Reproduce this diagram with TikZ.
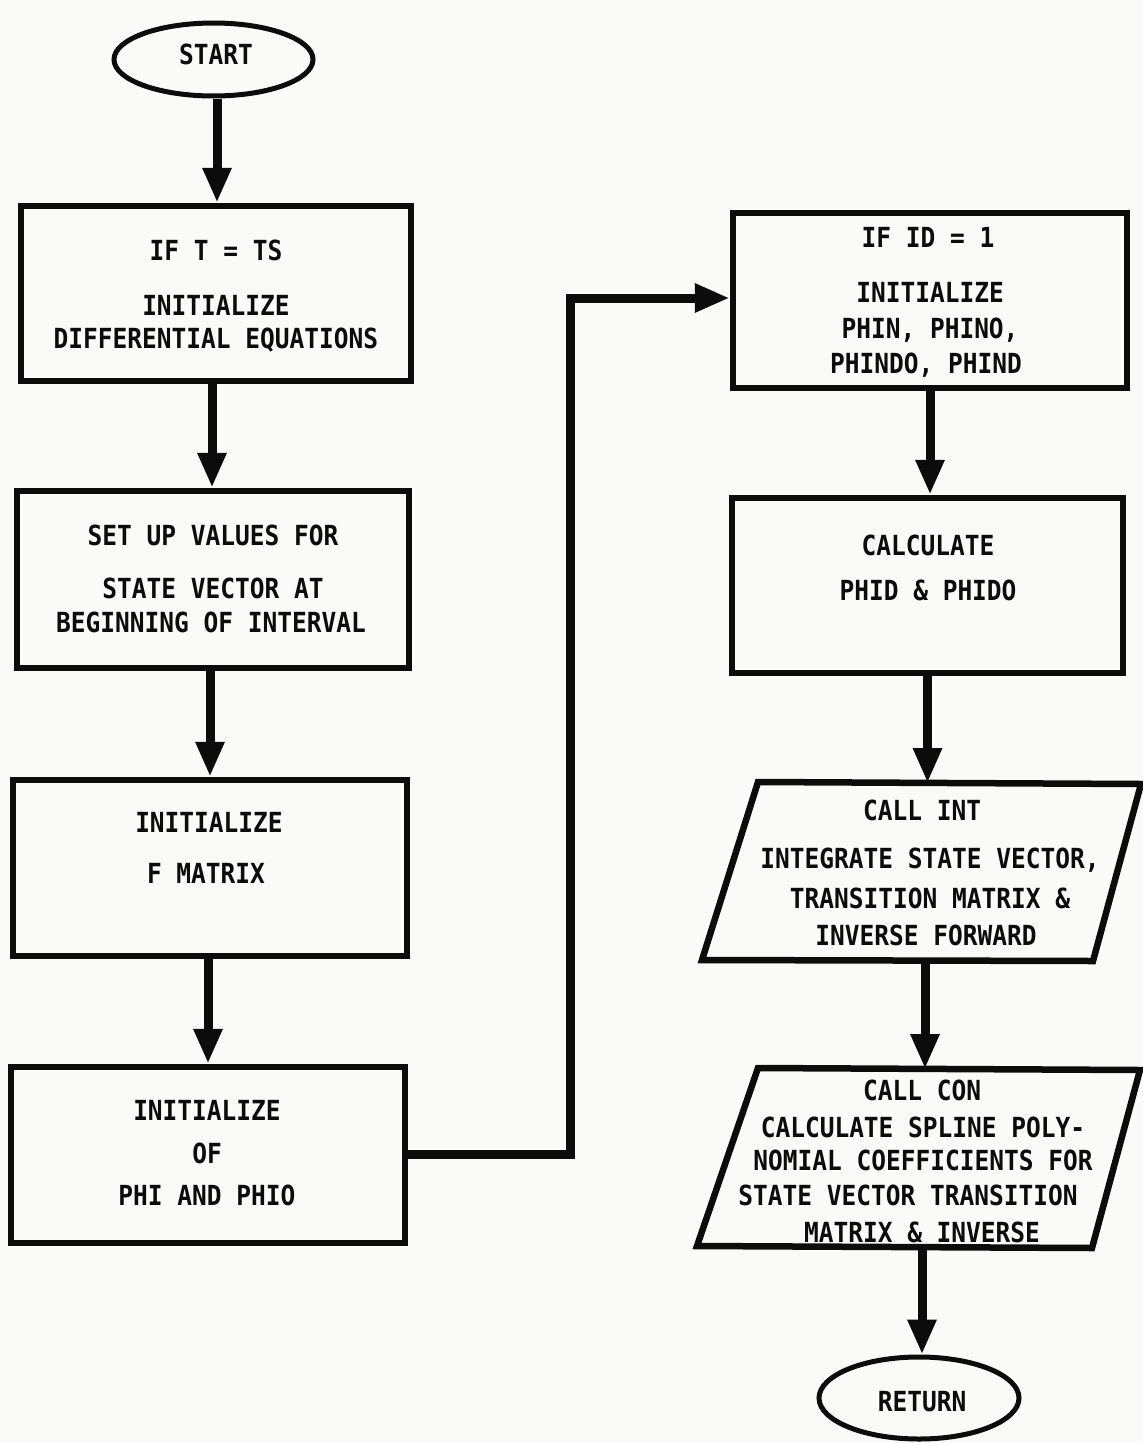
\documentclass[tikz,border=0pt]{standalone}
\usepackage{fontspec}
\usepackage{graphicx}
\usetikzlibrary{arrows.meta,shapes.geometric}
\newfontfamily\leroy{DejaVu Sans Mono}
\definecolor{paper}{RGB}{250,250,249}
\definecolor{ink}{RGB}{12,12,12}
% lettering: monospaced, a little taller than wide
\newcommand\lettering[1]{\scalebox{1}[1.13]{#1}}
\begin{document}
\begin{tikzpicture}[x=1pt,y=-1pt,
  box/.style={draw=ink, line width=6.5pt, line join=miter, inner sep=0pt},
  term/.style={draw=ink, ellipse, line width=5pt, inner sep=0pt},
  io/.style={draw=ink, line width=6.5pt, line join=miter},
  lbl/.style={text=ink, inner sep=0pt, font=\leroy\bfseries\fontsize{24.5}{29}\selectfont},
  flow/.style={draw=ink, line width=9pt, line join=miter,
    -{Triangle[length=35pt,width=27pt]}},
]
% page
\fill[paper] (0,0) rectangle (1143,1443);
\useasboundingbox (0,0) rectangle (1143,1443);

% ---------------- left column ----------------
\node[term, minimum width=199pt, minimum height=73pt] (start) at (213.5,59.5) {};
\node[lbl] (startlbl) at (216,54) {\lettering{START}};

\node[box, minimum width=390pt, minimum height=175pt] (b1) at (216,293.5) {};
\node[lbl] (b1a) at (216,250) {\lettering{IF T = TS}};
\node[lbl] (b1b) at (216,305) {\lettering{INITIALIZE}};
\node[lbl] (b1c) at (216,340) {\lettering{DIFFERENTIAL EQUATIONS}};

\node[box, minimum width=392pt, minimum height=177pt] (b2) at (213,579.5) {};
\node[lbl] (b2a) at (213,535) {\lettering{SET UP VALUES FOR}};
\node[lbl] (b2b) at (213,588) {\lettering{STATE VECTOR AT}};
\node[lbl] (b2c) at (211,622) {\lettering{BEGINNING OF INTERVAL}};

\node[box, minimum width=394pt, minimum height=176pt] (b3) at (210,868) {};
\node[lbl] (b3a) at (209,822) {\lettering{INITIALIZE}};
\node[lbl] (b3b) at (206,873) {\lettering{F MATRIX}};

\node[box, minimum width=394pt, minimum height=176pt] (b4) at (208,1155) {};
\node[lbl] (b4a) at (207,1110) {\lettering{INITIALIZE}};
\node[lbl] (b4b) at (207,1153) {\lettering{OF}};
\node[lbl] (b4c) at (207,1195) {\lettering{PHI AND PHIO}};

% ---------------- right column ----------------
\node[box, minimum width=394pt, minimum height=175pt] (b5) at (930,300.5) {};
\node[lbl] (b5a) at (928,237) {\lettering{IF ID = 1}};
\node[lbl] (b5b) at (930,292) {\lettering{INITIALIZE}};
\node[lbl] (b5c) at (930,330) {\lettering{PHIN, PHINO,}};
\node[lbl] (b5d) at (926,365) {\lettering{PHINDO, PHIND}};

\node[box, minimum width=391pt, minimum height=175pt] (b6) at (927.5,585.5) {};
\node[lbl] (b6a) at (928,545) {\lettering{CALCULATE}};
\node[lbl] (b6b) at (928,590) {\lettering{PHID \& PHIDO}};

% CALL INT block
\coordinate (p1tl) at (758,782);
\coordinate (p1tr) at (1141,784);
\coordinate (p1br) at (1093,961);
\coordinate (p1bl) at (702,960);
\draw[io] (p1tl) -- (p1tr) -- (p1br) -- (p1bl) -- cycle;
\coordinate (p1in) at (927.5,783);
\coordinate (p1out) at (925,960.5);
\node[lbl] (p1a) at (922,810) {\lettering{CALL INT}};
\node[lbl] (p1b) at (930,860) {\lettering{INTEGRATE STATE VECTOR,}};
\node[lbl] (p1c) at (930,898) {\lettering{TRANSITION MATRIX \&}};
\node[lbl] (p1d) at (926,935) {\lettering{INVERSE FORWARD}};

% CALL CON block
\coordinate (p2tl) at (758,1068);
\coordinate (p2tr) at (1140,1070);
\coordinate (p2br) at (1092,1248);
\coordinate (p2bl) at (697,1246);
\draw[io] (p2tl) -- (p2tr) -- (p2br) -- (p2bl) -- cycle;
\coordinate (p2in) at (925,1069);
\coordinate (p2out) at (922,1247);
\node[lbl] (p2a) at (922,1090) {\lettering{CALL CON}};
\node[lbl] (p2b) at (923,1127) {\lettering{CALCULATE SPLINE POLY-}};
\node[lbl] (p2c) at (923,1160) {\lettering{NOMIAL COEFFICIENTS FOR}};
\node[lbl] (p2d) at (908,1195) {\lettering{STATE VECTOR TRANSITION}};
\node[lbl] (p2e) at (922,1232) {\lettering{MATRIX \& INVERSE}};

\node[term, minimum width=200pt, minimum height=82pt] (ret) at (919,1398) {};
\node[lbl] (retlbl) at (922,1402) {\lettering{RETURN}};

% ---------------- connectors ----------------
\draw[flow] (start.south -| 217,0) -- (b1.north -| 217,0);
\draw[flow] (b1.south -| 212,0) -- (b2.north -| 212,0);
\draw[flow] (b2.south -| 210,0) -- (b3.north -| 210,0);
\draw[flow] (b3.south -| 208,0) -- (b4.north -| 208,0);

\coordinate (jog) at (570,0);
\draw[flow] (b4.east |- 0,1154) -- (jog |- 0,1154) -- (jog |- 0,298) -- (b5.west |- 0,298);

\draw[flow] (b5.south) -- (b6.north -| b5.south);
\draw[flow] (b6.south) -- (p1in);
\draw[flow] (p1out) -- (p2in);
\draw[flow] (p2out) -- (ret.north -| p2out);
\end{tikzpicture}
\end{document}
